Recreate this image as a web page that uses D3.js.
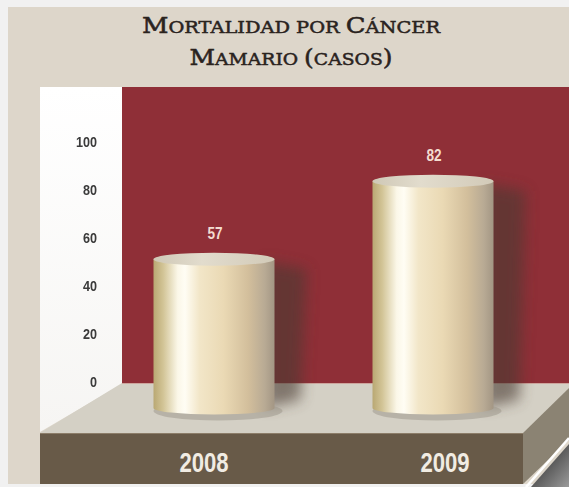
<!DOCTYPE html>
<html>
<head>
<meta charset="utf-8">
<script src="https://cdn.jsdelivr.net/npm/d3@7"></script>
<style>
  body { margin: 0; background: #f1f1f1; }
  svg { display: block; }
</style>
</head>
<body>
<div id="chart"></div>
<script>
// data
var years = ["2008", "2009"];
var values = [57, 82];
var yTicks = [0, 20, 40, 60, 80, 100];
var titleLine1 = [["M", 1], ["ORTALIDAD POR ", 0], ["C", 1], ["ÁNCER", 0]];
var titleLine2 = [["M", 1], ["AMARIO ", 0], ["(", 1], ["CASOS", 0], [")", 1]];

var svgWidth = 569;
var svgHeight = 487;

var svg = d3.select("#chart")
    .append("svg")
    .attr("width", svgWidth)
    .attr("height", svgHeight);

var defs = svg.append("defs");

// cylinder body gradient
var bodyGrad = defs.append("linearGradient").attr("id", "cylBody");
[[0, "#b9a873"], [0.08, "#d2c496"], [0.2, "#fbf7e8"], [0.26, "#fffdf4"], [0.38, "#f2e6c8"],
 [0.58, "#ead9b4"], [0.78, "#d3bf9c"], [0.92, "#b8aa94"], [1, "#a39684"]]
    .forEach(function (s) { bodyGrad.append("stop").attr("offset", s[0]).attr("stop-color", s[1]); });

var topGrad = defs.append("linearGradient").attr("id", "cylTop");
[[0, "#cfc8b6"], [0.4, "#e2dccd"], [1, "#d2cab8"]]
    .forEach(function (s) { topGrad.append("stop").attr("offset", s[0]).attr("stop-color", s[1]); });

var wallGrad = defs.append("linearGradient").attr("id", "leftWall")
    .attr("x1", 0).attr("y1", 0).attr("x2", 0).attr("y2", 1);
wallGrad.append("stop").attr("offset", 0).attr("stop-color", "#ffffff");
wallGrad.append("stop").attr("offset", 1).attr("stop-color", "#f6f5f3");

var cornerGrad = defs.append("linearGradient").attr("id", "corner")
    .attr("x1", 0).attr("y1", 0).attr("x2", 1).attr("y2", 1);
cornerGrad.append("stop").attr("offset", 0).attr("stop-color", "#1c1c1c");
cornerGrad.append("stop").attr("offset", 1).attr("stop-color", "#9a9a9a");

defs.append("filter").attr("id", "blur")
    .attr("x", "-50%").attr("y", "-20%").attr("width", "200%").attr("height", "140%")
    .append("feGaussianBlur").attr("stdDeviation", 7);

defs.append("filter").attr("id", "soft")
    .append("feGaussianBlur").attr("stdDeviation", 0.4);

// background panel
svg.append("rect").attr("x", 8).attr("y", 7).attr("width", 561).attr("height", 477)
    .attr("fill", "#ddd6ca");

// back wall and side wall
svg.append("rect").attr("x", 122).attr("y", 87).attr("width", 447).attr("height", 297)
    .attr("fill", "#8f2f37");
svg.append("path").attr("d", "M40,87H122V384L40,432Z").attr("fill", "url(#leftWall)");

// floor top
svg.append("path").attr("d", "M122,383H569V388L523,433H40Z").attr("fill", "#d4d0c5");
svg.append("line").attr("x1", 122).attr("y1", 383.5).attr("x2", 569).attr("y2", 383.5)
    .attr("stroke", "#c98a84").attr("stroke-width", 1).attr("opacity", 0.6);
// floor front and side
svg.append("rect").attr("x", 40).attr("y", 433).attr("width", 483).attr("height", 51)
    .attr("fill", "#685a48");
svg.append("line").attr("x1", 40).attr("y1", 433.5).attr("x2", 523).attr("y2", 433.5)
    .attr("stroke", "#8c7d69").attr("stroke-width", 1);
svg.append("path").attr("d", "M523,433L569,388V440L523,484Z").attr("fill", "#8b8373");

// page corner
svg.append("path").attr("d", "M531,487L569,444V487Z").attr("fill", "url(#corner)");
svg.append("line").attr("x1", 526).attr("y1", 487).attr("x2", 569).attr("y2", 438)
    .attr("stroke", "#ffffff").attr("stroke-width", 2.5);

// title
[[titleLine1, 33, 298], [titleLine2, 65, 203]].forEach(function (line) {
    var t = svg.append("text")
        .attr("x", 291)
        .attr("y", line[1])
        .attr("text-anchor", "middle")
        .attr("textLength", line[2])
        .attr("lengthAdjust", "spacingAndGlyphs")
        .attr("font-family", "'DejaVu Serif', 'Liberation Serif', serif")
        .attr("fill", "#2a231e")
        .attr("stroke", "#2a231e")
        .attr("stroke-width", 0.5);
    t.selectAll("tspan")
        .data(line[0])
        .enter()
        .append("tspan")
        .attr("font-size", d => d[1] ? 22 : 16.5)
        .text(d => d[0]);
});

// axis
var yScale = d3.scaleLinear()
    .domain([0, 100])
    .range([382, 142]);

var leftAxis = d3.axisLeft(yScale)
    .tickValues(yTicks)
    .tickSize(0)
    .tickPadding(0);

var axisGroup = svg.append("g")
    .attr("transform", "translate(97,0)")
    .call(leftAxis);
axisGroup.select(".domain").remove();
axisGroup.selectAll("text")
    .attr("font-family", "'Liberation Sans', Arial, sans-serif")
    .attr("font-weight", "bold")
    .attr("font-size", 14)
    .attr("fill", "#3a3a3a")
    .attr("transform", "scale(0.9,1)")
    .attr("filter", "url(#soft)");

// cylinder scales
var baseY = 408;
var hScale = d3.scaleLinear()
    .domain([0, 100])
    .range([437, 125]);
var xScale = d3.scalePoint()
    .domain(years)
    .range([214, 433]);
var labelScale = d3.scalePoint()
    .domain(years)
    .range([204, 445]);
var rx = 60.5, ry = 6.5;

var data = years.map((y, i) => ({ year: y, value: values[i] }));

// shadows on the wall
svg.append("g").selectAll("path")
    .data(data)
    .enter()
    .append("path")
    .attr("d", d => {
        var r = xScale(d.year) + rx, t = hScale(d.value);
        return `M${r - 10},${t + 2}L${r + 32},${t + 10}L${r + 26},${baseY - 8}L${r - 10},${baseY}Z`;
    })
    .attr("fill", "#4a3a33")
    .attr("opacity", 0.6)
    .attr("filter", "url(#blur)");

// floor shadow
svg.append("g").selectAll("ellipse")
    .data(data)
    .enter()
    .append("ellipse")
    .attr("cx", d => xScale(d.year) + 4)
    .attr("cy", baseY + 3)
    .attr("rx", rx + 4)
    .attr("ry", ry + 3)
    .attr("fill", "#9c968a")
    .attr("opacity", 0.5)
    .attr("filter", "url(#soft)");

// cylinders
var cyl = svg.append("g").selectAll("g")
    .data(data)
    .enter()
    .append("g");

cyl.append("path")
    .attr("d", d => {
        var cx = xScale(d.year), t = hScale(d.value);
        return `M${cx - rx},${t}V${baseY}A${rx},${ry} 0 0 0 ${cx + rx},${baseY}V${t}Z`;
    })
    .attr("fill", "url(#cylBody)");

cyl.append("ellipse")
    .attr("cx", d => xScale(d.year))
    .attr("cy", d => hScale(d.value))
    .attr("rx", rx)
    .attr("ry", ry)
    .attr("fill", "url(#cylTop)");

// value labels (condensed by horizontal scaling)
cyl.append("text")
    .attr("transform", d => `translate(${xScale(d.year) + 1},${hScale(d.value) - ry - 14}) scale(0.8,1)`)
    .attr("text-anchor", "middle")
    .attr("font-family", "'Liberation Sans', Arial, sans-serif")
    .attr("font-weight", "bold")
    .attr("font-size", 17)
    .attr("fill", "#f3dcd0")
    .text(d => d.value);

// year labels
svg.append("g").selectAll("text")
    .data(data)
    .enter()
    .append("text")
    .attr("transform", d => `translate(${labelScale(d.year)},472) scale(0.82,1)`)
    .attr("text-anchor", "middle")
    .attr("font-family", "'Liberation Sans', Arial, sans-serif")
    .attr("font-weight", "bold")
    .attr("font-size", 27)
    .attr("fill", "#f1ece3")
    .text(d => d.year);
</script>
</body>
</html>
